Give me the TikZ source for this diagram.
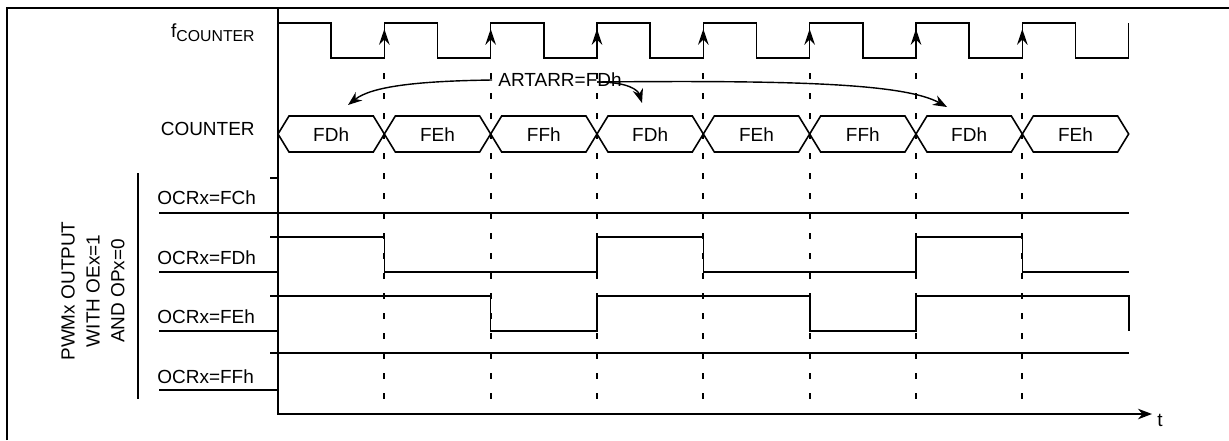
\documentclass[tikz,border=0pt]{standalone}
\usepackage{fontspec}
\setmainfont{Liberation Sans}
\usetikzlibrary{arrows.meta}

\tikzset{
  sig/.style={line width=0.9pt},
  edgemark/.style={line width=0.9pt, -{Stealth[length=9pt,width=6pt,inset=3pt]}},
  tickline/.style={line width=1.1pt, dash pattern=on 3.4pt off 8pt},
  lbl/.style={inner sep=0pt},
  flow/.style={line width=0.8pt, -{Stealth[length=8pt,width=6pt]}}
}

\begin{document}
\begin{tikzpicture}[x=0.02cm, y=-0.02cm, font=\fontsize{10.8}{13}\selectfont]
  \useasboundingbox (0,0) rectangle (1229,440);
  \draw[sig] (7,440) -- (7,8) -- (1229,8);

  \foreach \k in {1,...,7}
    \draw[tickline] ({278+\k*106.33},73) -- ({278+\k*106.33},414);

  \node[lbl, anchor=east] (fclk) at (255,33) {f\raisebox{-0.4ex}{\fontsize{9}{10}\selectfont COUNTER}};
  \draw[sig] (278,23) \foreach \k in {0,...,7} {
    -- ({278+(\k+0.5)*106.33},23) -- ({278+(\k+0.5)*106.33},58)
    -- ({278+(\k+1)*106.33},58) -- ({278+(\k+1)*106.33},23)};
  \foreach \k in {1,...,7}
    \draw[edgemark] ({278+\k*106.33},58) -- ({278+\k*106.33},29);

  \node[lbl, anchor=east] (cnt) at (255,129) {COUNTER};
  \foreach \k/\v in {0/FDh,1/FEh,2/FFh,3/FDh,4/FEh,5/FFh,6/FDh,7/FEh} {
    \draw[sig] ({278+\k*106.33},134) -- ({289+\k*106.33},116) -- ({267+(\k+1)*106.33},116)
      -- ({278+(\k+1)*106.33},134) -- ({267+(\k+1)*106.33},152) -- ({289+\k*106.33},152) -- cycle;
    \node (v\k) at ({278+(\k+0.5)*106.33},135) {\v};
  }

  \node (artarr) at (560,80) {ARTARR=FDh};
  \coordinate (split) at (597,82);
  \coordinate (a1) at (348,105);
  \coordinate (a4) at (642,103);
  \coordinate (a7) at (947,107);
  \draw[flow] (artarr.west) .. controls (420,81) and (372,86) .. (a1);
  \draw[flow] (split) .. controls (628,82) and (638,90) .. (a4);
  \draw[flow] (split) .. controls (800,80) and (905,84) .. (a7);

  \draw[sig] (138,173) -- (138,399);
  \node[rotate=90, align=center, font=\fontsize{10.8}{14.2}\selectfont] (pwm) at (93,291)
    {PWMx OUTPUT\\WITH OEx=1\\AND OPx=0};

  \node[lbl, anchor=west] (fch) at (157,198) {OCRx=FCh};
  \node[lbl, anchor=west] (fdh) at (157,258) {OCRx=FDh};
  \node[lbl, anchor=west] (feh) at (157,317) {OCRx=FEh};
  \node[lbl, anchor=west] (ffh) at (157,377) {OCRx=FFh};

  \draw[sig] (270,178) -- (278,178);
  \draw[sig] (159,213) -- (1128.7,213);

  \draw[sig] (159,272) -- (278,272);
  \draw[sig] (270,237) -- (384.3,237) -- (384.3,272) -- (597,272) -- (597,237) -- (703.3,237)
    -- (703.3,272) -- (916,272) -- (916,237) -- (1022.3,237) -- (1022.3,272) -- (1128.7,272);

  \draw[sig] (159,331) -- (278,331);
  \draw[sig] (270,296) -- (490.7,296) -- (490.7,331) -- (597,331) -- (597,296) -- (809.7,296)
    -- (809.7,331) -- (916,331) -- (916,296) -- (1128.7,296) -- (1128.7,331);

  \draw[sig] (159,390) -- (278,390);
  \draw[sig] (270,353) -- (1128.7,353);

  \coordinate (top) at (278,8);
  \coordinate (orig) at (278,414);
  \coordinate (tend) at (1152,414);
  \node[lbl] (taxis) at (1160,420) {t};
  \draw[sig, -{Stealth[length=8pt,width=6pt,inset=2.5pt]}] (top) -- (orig) -- (tend);
\end{tikzpicture}
\end{document}
